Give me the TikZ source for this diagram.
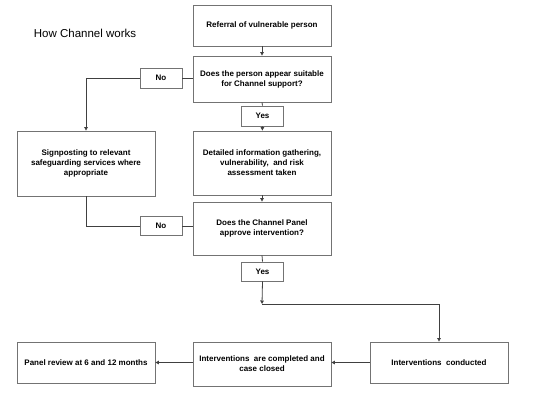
\documentclass[tikz,border=0pt]{standalone}
\usepackage{fontspec}
\setmainfont{Liberation Sans}
\usetikzlibrary{arrows.meta}
\begin{document}
\begin{tikzpicture}[x=1pt,y=-1pt,
  box/.style={draw=black!55,line width=0.8pt,rectangle,minimum width=138pt,align=center,inner sep=2pt,font=\fontsize{8}{10}\selectfont\bfseries},
  lab/.style={draw=black!55,line width=0.8pt,rectangle,minimum width=42pt,minimum height=20pt,inner sep=1pt,font=\fontsize{8}{10}\selectfont\bfseries},
  conn/.style={draw=black!75,line width=0.8pt},
  arr/.style={conn,-{Triangle[length=3.5pt,width=3.5pt]}}]
\useasboundingbox (0,0) rectangle (545,413);
\node[font=\fontsize{11.5}{13}\selectfont] (title) at (85,33) {How Channel works};
\node[box,minimum height=41pt] (ref) at (262,25.5) {Referral of vulnerable person};
\node[box,minimum height=46pt] (suit) at (262,79) {Does the person appear suitable\\for Channel support?};
\node[lab] (yes1) at (262.5,116) {Yes};
\node[lab] (no1) at (161,78) {No};
\node[box,minimum height=65pt] (sign) at (86,163.5) {Signposting to relevant\\safeguarding services where\\appropriate};
\node[box,minimum height=64pt] (det) at (262,163) {Detailed information gathering,\\vulnerability, \ and risk\\assessment taken};
\node[box,minimum height=53pt] (pan) at (262,228.5) {Does the Channel Panel\\approve intervention?};
\node[lab,minimum height=19pt] (no2) at (161,226) {No};
\node[lab,minimum height=19pt] (yes2) at (262.5,271.5) {Yes};
\node[box,minimum height=41pt] (rev) at (86,362.5) {Panel review at 6 and 12 months};
\node[box,minimum height=44pt] (comp) at (262,364) {Interventions \ are completed and\\case closed};
\node[box,minimum height=41pt] (cond) at (439,362.5) {Interventions \ conducted};
\coordinate (c1) at (262,304);
\draw[arr] (ref) -- (suit);
\draw[conn] (suit.west |- no1.east) -- (no1.east);
\draw[arr] (no1.west) -| (sign.north);
\draw[conn] (suit.south) -- (yes1.north);
\draw[arr] (yes1) -- (det);
\draw[arr] (det) -- (pan);
\draw[conn] (sign.south) |- (no2.west);
\draw[conn] (no2.east) -- (pan.west |- no2.east);
\draw[conn] (pan.south) -- (yes2.north);
\draw[arr] (yes2.south) -- (c1);
\draw[arr] (c1) -| (cond.north);
\draw[arr] (cond.west) -- (comp.east |- cond.west);
\draw[arr] (comp.west |- rev.east) -- (rev.east);
\end{tikzpicture}
\end{document}
